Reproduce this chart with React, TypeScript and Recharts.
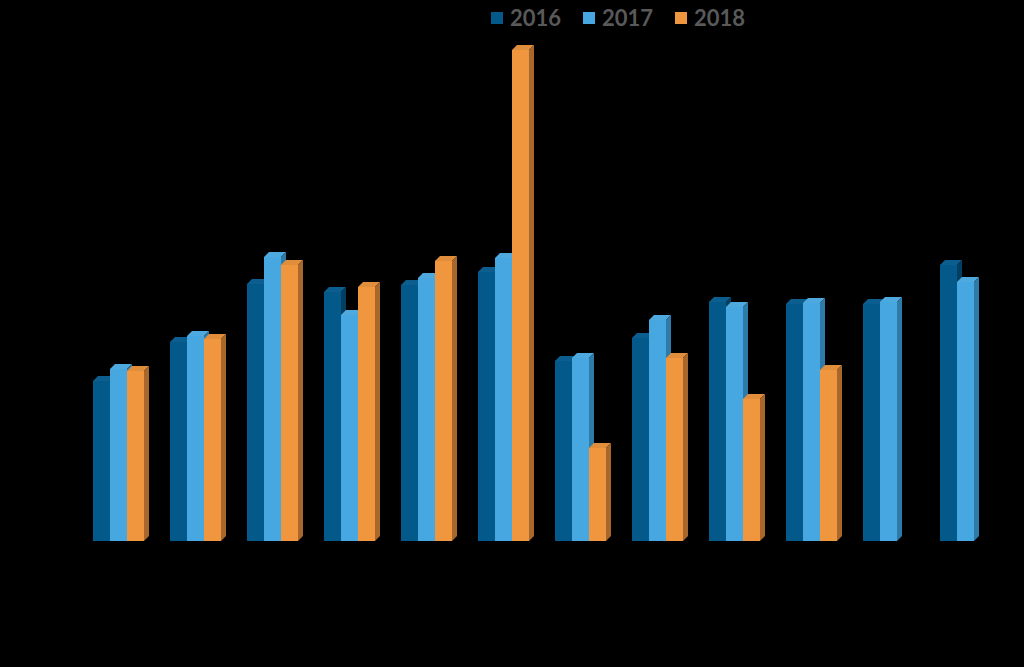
import { BarChart, Bar, XAxis, YAxis, Legend } from 'recharts'

const months = ['Jan', 'Feb', 'Mar', 'Apr', 'May', 'Jun', 'Jul', 'Aug', 'Sep', 'Oct', 'Nov', 'Dec']
const values2016 = [160, 199, 257, 249, 256, 269, 180, 203, 239, 237, 237, 276]
const values2017 = [172, 205, 284, 226, 263, 283, 183, 221, 234, 238, 239, 259]
const values2018 = [170, 202, 276, 254, 280, 491, 93, 183, 142, 171, null, null]

const data = months.map((m, i) => ({
  month: m,
  '2016': values2016[i],
  '2017': values2017[i],
  '2018': values2018[i],
}))

const DEPTH_X = 5
const DEPTH_Y = 5

function makeBar3D(front: string, top: string, side: string) {
  return (props: any) => {
    const { x, y, width, height } = props
    if (!height || height <= 0) return <g />
    const dx = DEPTH_X
    const dy = DEPTH_Y
    return (
      <g>
        <rect x={x} y={y} width={width} height={height} fill={front} />
        <polygon
          points={`${x},${y} ${x + dx},${y - dy} ${x + width + dx},${y - dy} ${x + width},${y}`}
          fill={top}
        />
        <polygon
          points={`${x + width},${y} ${x + width + dx},${y - dy} ${x + width + dx},${y + height - dy} ${x + width},${y + height}`}
          fill={side}
        />
      </g>
    )
  }
}

const series = [
  { key: '2016', front: '#02598A', top: '#0B5E8E', side: '#023F62' },
  { key: '2017', front: '#47A7E0', top: '#4DA9DE', side: '#2E7BAA' },
  { key: '2018', front: '#F0963F', top: '#E08E3C', side: '#A8682B' },
]

function LegendContent() {
  return (
    <div style={{ display: 'flex', justifyContent: 'center', alignItems: 'center', fontFamily: 'Lato, sans-serif', fontWeight: 700, fontSize: 22, color: '#595959' }}>
      {series.map((s) => (
        <div key={s.key} style={{ display: 'flex', alignItems: 'center', margin: '0 11px' }}>
          <span style={{ display: 'inline-block', width: 12, height: 12, background: s.front, marginRight: 7 }} />
          <span>{s.key}</span>
        </div>
      ))}
    </div>
  )
}

export default function App() {
  return (
    <div style={{ width: 1024, height: 667, background: '#000' }}>
      <style>{'body{margin:0;background:#000}'}</style>
      <BarChart
        width={1024}
        height={667}
        data={data}
        margin={{ top: 41, right: 20, left: 80, bottom: 126 }}
        barGap={0}
        barSize={17}
      >
        <XAxis dataKey="month" hide />
        <YAxis hide domain={[0, 500]} />
        <Legend
          content={<LegendContent />}
          verticalAlign="middle"
          align="center"
          wrapperStyle={{ top: 4, left: 248, width: 740 }}
        />
        {series.map((s) => (
          <Bar
            key={s.key}
            dataKey={s.key}
            fill={s.front}
            shape={makeBar3D(s.front, s.top, s.side)}
            isAnimationActive={false}
          />
        ))}
      </BarChart>
    </div>
  )
}
